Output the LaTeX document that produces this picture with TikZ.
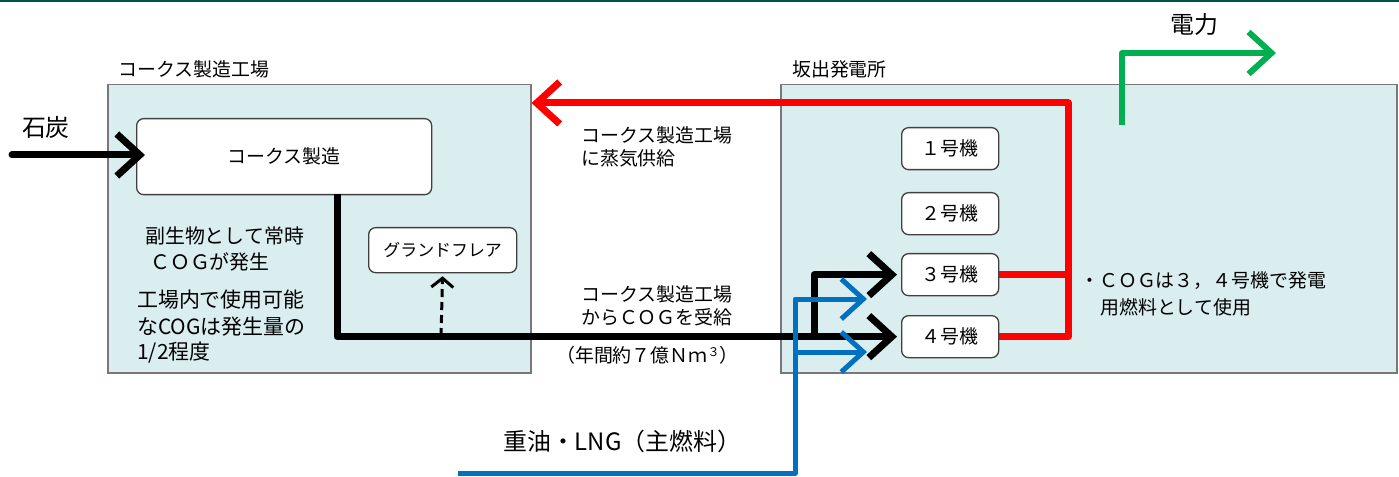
\documentclass[tikz,border=0pt]{standalone}
\usepackage{fontspec}
\setmainfont{Noto Sans CJK JP}
\usetikzlibrary{arrows.meta}
\definecolor{band}{RGB}{0,84,70}
\definecolor{areafill}{RGB}{218,237,239}
\definecolor{areadraw}{RGB}{120,120,120}
\definecolor{redline}{RGB}{255,0,0}
\definecolor{greenline}{RGB}{0,176,80}
\definecolor{blueline}{RGB}{0,112,192}
\tikzset{
  area/.style={draw=areadraw, fill=areafill, line width=1.5bp},
  unitbox/.style={draw=black!75, fill=white, rounded corners=7bp, line width=1.3bp, inner sep=0},
  txt/.style={font=\fontsize{19}{24}\selectfont, inner sep=0},
  bigtxt/.style={font=\fontsize{24}{28}\selectfont, inner sep=0},
  chev/.style={-{Straight Barb[length=23bp,width=42bp]}, line cap=round, line join=round},
  flowk/.style={chev, line width=7bp, draw=black},
  flowr/.style={chev, line width=7bp, draw=redline},
  flowg/.style={chev, line width=6bp, draw=greenline},
  flowb/.style={-{Straight Barb[length=22bp,width=40bp]}, line join=round, line width=5bp, draw=blueline},
}
\begin{document}
\begin{tikzpicture}[x=1bp,y=-1bp]
\useasboundingbox (0,0) rectangle (1399,477);
\fill[band] (0,0) rectangle (1399,2.5);
% areas
\node[area, minimum width=423bp, minimum height=288bp, anchor=north west, inner sep=0] (cokearea) at (107,84) {};
\node[area, minimum width=616bp, minimum height=288bp, anchor=north west, inner sep=0] (plantarea) at (780,84) {};
\node[txt, anchor=west] (cokeareal) at (118,69) {コークス製造工場};
\node[txt, anchor=west] (plantareal) at (792,69) {坂出発電所};
% boxes
\node[unitbox, minimum width=295bp, minimum height=76bp, anchor=north west] (coke) at (136,118) {};
\node[txt] at (coke.center) {コークス製造};
\node[unitbox, minimum width=148bp, minimum height=45bp, anchor=north west] (flare) at (368,227) {};
\node[txt, font=\fontsize{17}{20}\selectfont] at (flare.center) {グランドフレア};
\foreach \n/\d/\y in {1/１/127,2/２/192,3/３/253,4/４/315}{
  \node[unitbox, minimum width=97bp, minimum height=42bp, anchor=north west] (u\n) at (901,\y) {};
  \node[txt] at (u\n.center) {\d 号機};
}
% left texts
\node[txt, anchor=west, font=\fontsize{20}{24}\selectfont] (t1) at (145,236) {副生物として常時};
\node[txt, anchor=west, font=\fontsize{20}{24}\selectfont] (t2) at (150,262) {ＣＯＧが発生};
\node[txt, anchor=west, font=\fontsize{21}{24}\selectfont] (t3) at (137,300) {工場内で使用可能};
\node[txt, anchor=west, font=\fontsize{21}{24}\selectfont] (t4) at (137,327) {なCOGは発生量の};
\node[txt, anchor=west, font=\fontsize{21}{24}\selectfont] (t5) at (137,353) {1/2程度};
% middle texts
\node[txt, anchor=west] (r1) at (581,135) {コークス製造工場};
\node[txt, anchor=west] (r2) at (581,158) {に蒸気供給};
\node[txt, anchor=west] (k1) at (581,294) {コークス製造工場};
\node[txt, anchor=west] (k2) at (581,317) {からＣＯＧを受給};
\node[txt, anchor=west] (k3) at (556,355) {（年間約７億Ｎｍ\raisebox{0.6ex}{\fontsize{12}{14}\selectfont ３}）};
\node[txt, anchor=west] (p1) at (1080,281) {・ＣＯＧは３，４号機で発電};
\node[txt, anchor=west] (p2) at (1100,307) {用燃料として使用};
\node[bigtxt, anchor=center] (coal) at (46,127) {石炭};
\node[bigtxt, anchor=center] (power) at (1194,24) {電力};
\node[bigtxt, anchor=west] (fuel) at (503,441) {重油・LNG（主燃料）};
% coordinates
\coordinate (coalin) at (12,155);
\coordinate (cogout) at (337,194);
\coordinate (branch) at (814,336);
\coordinate (redcorner) at (1068,103);
\coordinate (gstart) at (1122,125);
\coordinate (gend) at (1276,53);
\coordinate (bstart) at (458,473);
\coordinate (bcorner) at (795,473);
\coordinate (b3) at (867,299);
\coordinate (b4) at (867,352);
\coordinate (flarebase) at (441,336);
% flows
\draw[flowk, shorten >=-9bp] (coalin) -- (coalin -| coke.west);
\draw[flowk, line cap=butt, shorten >=4bp] (cogout) |- (u4.west);
\draw[flowk, line cap=butt, shorten >=4bp] (branch) |- (u3.west);
\draw[line width=3bp, dash pattern=on 8bp off 5bp, -{Straight Barb[length=9bp,width=22bp]}, shorten >=3bp] (flarebase) -- (flare.south);
\draw[flowr, line cap=butt] (u4.east) -| (redcorner) -- (redcorner -| cokearea.east);
\draw[line width=7bp, draw=redline] (u3.east) -- (u3.east -| redcorner);
\draw[flowg, line cap=butt] (gstart) |- (gend);
\draw[flowb] (bstart) -- (bcorner) |- (b3);
\draw[flowb] (bcorner |- b4) -- (b4);
\end{tikzpicture}
\end{document}
